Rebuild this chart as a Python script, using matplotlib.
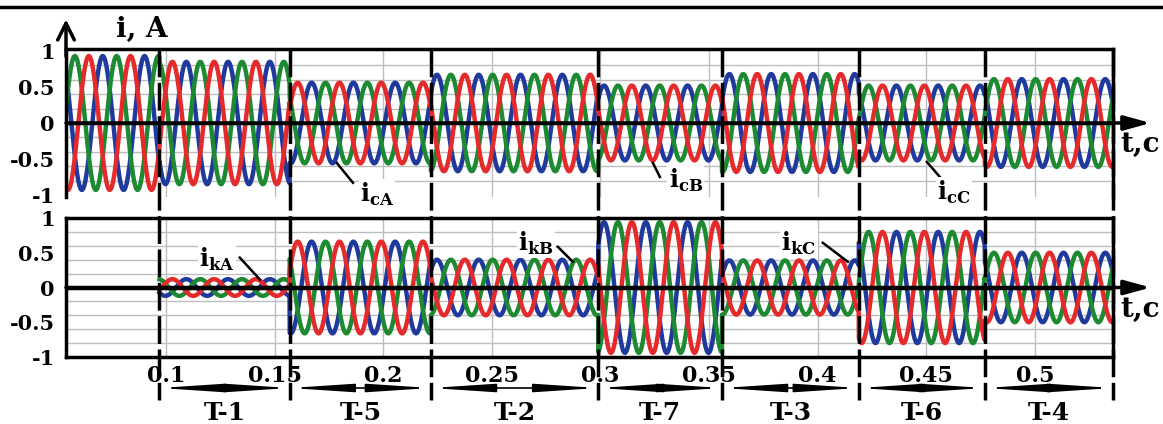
import numpy as np
import matplotlib
matplotlib.use('Agg')
import matplotlib.pyplot as plt
from matplotlib.lines import Line2D
import matplotlib.transforms as mtransforms

# ---------------- data ----------------
# segment boundaries on the time axis (s)
boundaries = [0.054, 0.097, 0.157, 0.222, 0.299, 0.356, 0.419, 0.477, 0.536]
segment_names = ['T-1', 'T-5', 'T-2', 'T-7', 'T-3', 'T-6', 'T-4']
# amplitude of the three-phase currents in each segment (first one is before T-1)
ic_amp = [0.93, 0.85, 0.56, 0.67, 0.52, 0.68, 0.52, 0.61]
ik_amp = [0.0, 0.12, 0.66, 0.40, 0.94, 0.39, 0.80, 0.50]
freq_hz = 52.0
green_peak_t = 0.0581

x_ticks = [0.1, 0.15, 0.2, 0.25, 0.3, 0.35, 0.4, 0.45, 0.5]
x_tick_labels = ['0.1', '0.15', '0.2', '0.25', '0.3', '0.35', '0.4', '0.45', '0.5']
y_ticks = [-1, -0.5, 0, 0.5, 1]
y_tick_labels = ['-1', '-0.5', '0', '0.5', '1']

# labels: (text, text_x, text_y, leader_start, leader_end)
top_labels = [
    (r'$\mathbf{i}_{\mathbf{cA}}$', 0.1971, -0.99, (0.1861, -0.83), (0.1787, -0.556)),
    (r'$\mathbf{i}_{\mathbf{cB}}$', 0.3393, -0.80, (0.3274, -0.75), (0.3242, -0.556)),
    (r'$\mathbf{i}_{\mathbf{cC}}$', 0.4627, -0.96, (0.4563, -0.75), (0.4503, -0.54)),
]
bottom_labels = [
    (r'$\mathbf{i}_{\mathbf{kA}}$', 0.1235, 0.40, (0.1340, 0.43), (0.1433, 0.114)),
    (r'$\mathbf{i}_{\mathbf{kB}}$', 0.2703, 0.63, (0.2804, 0.586), (0.2873, 0.371)),
    (r'$\mathbf{i}_{\mathbf{kC}}$', 0.3914, 0.63, (0.4024, 0.643), (0.4139, 0.371)),
]

RED = '#e52a2c'
GREEN = '#1d8a32'
BLUE = '#1f3a9c'

plt.rcParams['font.family'] = ['DejaVu Serif']
plt.rcParams['font.weight'] = 'bold'
plt.rcParams['mathtext.fontset'] = 'custom'
plt.rcParams['mathtext.bf'] = 'DejaVu Serif:bold'
plt.rcParams['mathtext.rm'] = 'DejaVu Serif:bold'

fig = plt.figure(figsize=(11.63, 4.24), dpi=100)
H = 424.0
W = 1163.0
x0, x1 = 66 / W, 1113 / W
ax1 = fig.add_axes([x0, 1 - 197 / H, x1 - x0, (197 - 49) / H])
ax2 = fig.add_axes([x0, 1 - 357 / H, x1 - x0, (357 - 218) / H])


def three_phase(t, amps, bnds):
    idx = np.clip(np.searchsorted(bnds, t, side='right') - 1, 0, len(amps) - 1)
    A = np.asarray(amps)[idx]
    ph = 2 * np.pi * freq_hz * (t - green_peak_t)
    g = A * np.cos(ph)
    r = A * np.cos(ph - 2 * np.pi / 3)
    b = A * np.cos(ph - 4 * np.pi / 3)
    return r, g, b


t_all = np.linspace(boundaries[0], boundaries[-1], 6000)
r, g, b = three_phase(t_all, ic_amp, boundaries)
lw = 3.2
ax1.plot(t_all, b, color=BLUE, lw=lw, solid_joinstyle='round')
ax1.plot(t_all, g, color=GREEN, lw=lw, solid_joinstyle='round')
ax1.plot(t_all, r, color=RED, lw=lw, solid_joinstyle='round')

t_k = t_all[t_all >= boundaries[1]]
r, g, b = three_phase(t_k, ik_amp, boundaries)
ax2.plot(t_k, b, color=BLUE, lw=lw)
ax2.plot(t_k, g, color=GREEN, lw=lw)
ax2.plot(t_k, r, color=RED, lw=lw)

for ax, ylim in ((ax1, 1.028), (ax2, 1.0)):
    ax.set_xlim(boundaries[0], boundaries[-1])
    ax.set_ylim(-ylim, ylim)
    ax.set_xticks(x_ticks)
    ax.set_yticks(y_ticks, y_tick_labels)
    ax.set_yticks(np.arange(-1.0, 1.01, 0.2), minor=True)
    ax.grid(which='minor', axis='y', color='#bdbdbd', lw=1.0)
    ax.grid(which='major', axis='x', color='#bdbdbd', lw=1.0)
    ax.tick_params(which='both', length=0, labelsize=15, pad=8)
    for s in ax.spines.values():
        s.set_linewidth(2.5)
        s.set_color('black')
    ax.axhline(0, color='black', lw=2.5, zorder=5)
    ax.annotate('', xy=(1.036, 0), xycoords=('axes fraction', 'data'),
                xytext=(0.0, 0), textcoords=('axes fraction', 'data'),
                arrowprops=dict(arrowstyle='-|>,head_length=0.8,head_width=0.22',
                                lw=2.5, color='black', shrinkA=0, shrinkB=0,
                                mutation_scale=20), zorder=6)

ax1.spines['bottom'].set_visible(False)
ax1.tick_params(axis='x', labelbottom=False)
ax2.set_xticks(x_ticks, x_tick_labels)
ax2.tick_params(axis='x', labelsize=16, pad=6)

# y arrow on top axes
ax1.annotate('', xy=(0, 1.2), xycoords='axes fraction', xytext=(0, 0.95),
             arrowprops=dict(arrowstyle='->,head_length=0.6,head_width=0.3',
                             lw=2.5, color='black', shrinkA=0, shrinkB=0,
                             mutation_scale=20))
ax1.text(0.0726, 1.13, 'i, A', transform=ax1.transAxes, ha='center', va='center',
         fontsize=20, fontweight='bold')
ax1.text(1.026, -0.30, 't,c', transform=ax1.get_yaxis_transform(), ha='center',
         va='center', fontsize=20, fontweight='bold')
ax2.text(1.026, -0.32, 't,c', transform=ax2.get_yaxis_transform(), ha='center',
         va='center', fontsize=20, fontweight='bold')

for ax, labels in ((ax1, top_labels), (ax2, bottom_labels)):
    for txt, tx, ty, p0, p1 in labels:
        ax.text(tx, ty, txt, ha='center', va='center', fontsize=17, zorder=10,
                bbox=dict(boxstyle='square,pad=0.05', fc='white', ec='none'))
        ax.plot([p0[0], p1[0]], [p0[1], p1[1]], color='black', lw=1.8, zorder=9,
                clip_on=False)

# boundary dashed lines across both panels and below
blend = mtransforms.blended_transform_factory(ax2.transData, fig.transFigure)
for bx in boundaries[1:]:
    fig.add_artist(Line2D([bx, bx], [1 - 49 / H, 1 - 400 / H], transform=blend,
                          color='black', lw=2.5, ls=(0, (8, 1.6)), zorder=20))

# segment arrows and names
y_arrow = 1 - 388 / H
y_name = 1 - 413 / H
for i, name in enumerate(segment_names):
    a, c = boundaries[i + 1], boundaries[i + 2]
    ax2.annotate('', xy=(a, y_arrow), xycoords=blend, xytext=(c, y_arrow),
                 textcoords=blend,
                 arrowprops=dict(arrowstyle='<|-|>,head_length=3.8,head_width=0.25',
                                 lw=1.2, color='black', shrinkA=0, shrinkB=0,
                                 mutation_scale=10))
    fig.text(0, y_name, name, transform=blend, ha='center', va='center',
             fontsize=18, fontweight='bold').set_x((a + c) / 2)

# frame line on top of the picture
fig.add_artist(Line2D([0, 1], [1 - 6.5 / H, 1 - 6.5 / H], transform=fig.transFigure,
                      color='black', lw=2.5))

fig.savefig('out.png', dpi=100)
